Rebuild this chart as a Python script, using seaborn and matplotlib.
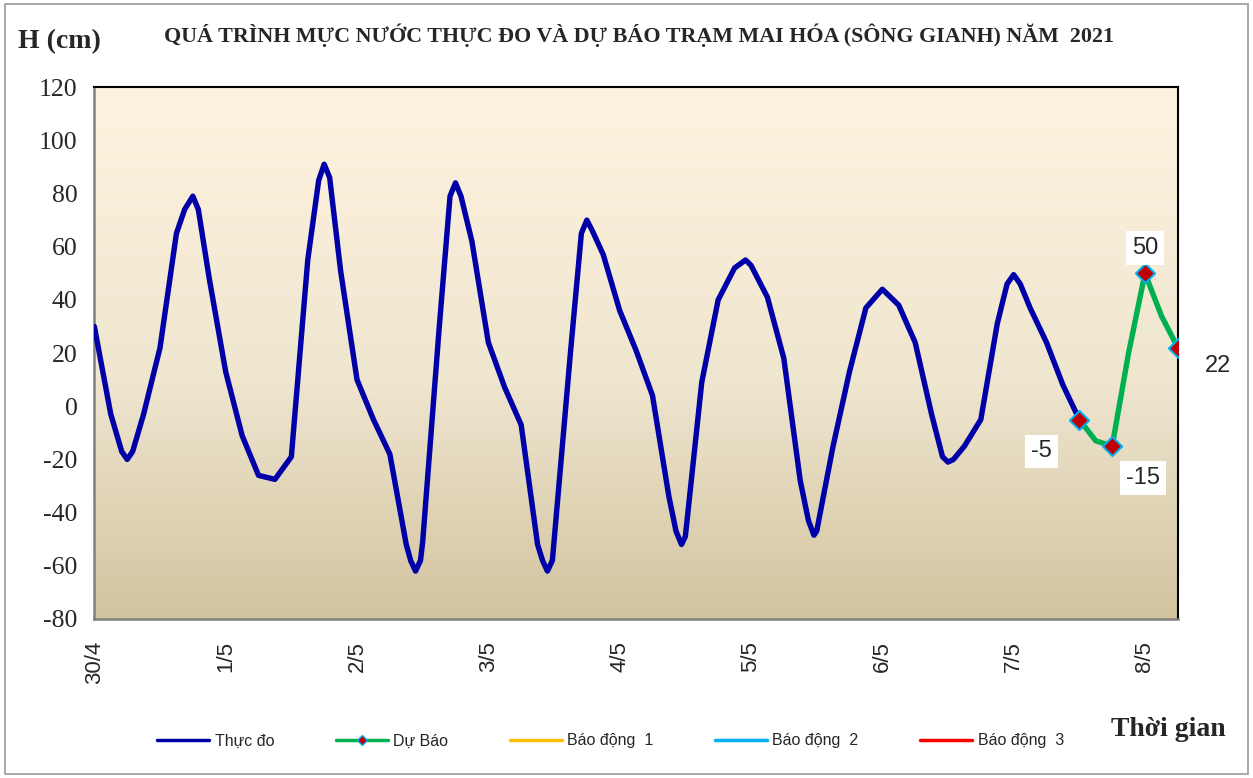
# -*- coding: utf-8 -*-
import numpy as np
import pandas as pd
import seaborn as sns
import matplotlib.pyplot as plt
from matplotlib.lines import Line2D
from matplotlib.patches import Rectangle
from matplotlib.colors import LinearSegmentedColormap

# so gio tinh tu 00h ngay 30/4, muc nuoc (cm) doc tren hinh
obs_hours = [0, 3, 5, 6, 7, 9, 12, 15, 16.5, 18, 19, 21, 24, 27, 30, 33, 36, 39, 41, 42, 43, 45,
             48, 51, 54, 57, 57.8, 58.7, 59.6, 60, 63, 65, 66, 67, 69, 72, 75, 78, 81, 81.9, 82.8,
             83.7, 84, 87, 89, 90, 91, 93, 96, 99, 102, 105, 106.3, 107.3, 108, 111, 114, 117,
             119, 120, 123, 126, 129, 130.5, 131.5, 132, 135, 138, 141, 144, 147, 150, 153,
             155, 156, 157, 159, 162, 165, 166.8, 168, 169.2, 171, 174, 177, 180]
obs_levels = [30, -3, -17, -20, -17, -3, 22, 65, 74, 79, 74, 48, 13, -11, -26, -27.5, -19, 55, 85, 91, 86, 51,
              10, -5, -18, -52, -58, -62, -58, -51, 29, 79, 84, 79, 62, 24, 7, -7, -52, -58, -62,
              -58, -51, 20, 65, 70, 66, 57, 36, 21, 4, -34, -47, -52, -49, 9, 40, 52,
              55, 53, 41, 18, -28, -43, -48.5, -47, -15, 13, 37, 44, 38, 24, -3,
              -19, -21, -20, -15, -5, 31, 46, 49.5, 46, 37, 24, 8, -5]

fc_hours = [180, 183, 186, 189, 192, 195, 198]
fc_levels = [-5, -13, -15, 20, 50, 34, 22]
fc_point_hours = [180, 186, 192, 198]
fc_point_levels = [-5, -15, 50, 22]

day_labels = ['30/4', '1/5', '2/5', '3/5', '4/5', '5/5', '6/5', '7/5', '8/5']
y_ticks = [-80, -60, -40, -20, 0, 20, 40, 60, 80, 100, 120]
legend_names = ['Thực đo', 'Dự Báo', 'Báo động  1', 'Báo động  2', 'Báo động  3']

sns.set_theme(style='white')
plt.rcParams['font.family'] = ['Liberation Sans', 'DejaVu Sans']
serif = ['Liberation Serif', 'DejaVu Serif']

obs = pd.DataFrame({'gio': obs_hours, 'H': obs_levels})
fc = pd.DataFrame({'gio': fc_hours, 'H': fc_levels})
fcp = pd.DataFrame({'gio': fc_point_hours, 'H': fc_point_levels})

fig = plt.figure(figsize=(12.53, 7.78), dpi=100)
fig.patch.set_facecolor('white')
fig.add_artist(Rectangle((0.004, 0.005), 0.992, 0.99, transform=fig.transFigure,
                         fill=False, edgecolor='#9a9a9a', lw=1.2))
ax = fig.add_axes([0.0753, 0.2044, 0.8647, 0.6836])

# nen chuyen mau
bg = LinearSegmentedColormap.from_list('bg', [(0, '#FEF3DE'), (0.55, '#EFE6D0'), (1, '#D3C4A0')])
ax.imshow(np.linspace(0, 1, 256).reshape(-1, 1), cmap=bg, aspect='auto',
          extent=[0, 198, -80, 120], origin='upper', zorder=0)

sns.lineplot(data=obs, x='gio', y='H', ax=ax, color='#0000A8', lw=3.9, zorder=3,
             solid_joinstyle='round', solid_capstyle='round')
sns.lineplot(data=fc, x='gio', y='H', ax=ax, color='#00B050', lw=3.9, zorder=4,
             solid_joinstyle='round', solid_capstyle='round')
sns.scatterplot(data=fcp, x='gio', y='H', ax=ax, marker='D', s=95, color='#C00000',
                edgecolor='#00B0F0', linewidth=1.5, zorder=5)

offsets = [(-27, -23), (22, -23), (0, 18), (29, -13)]
for (h, v), off in zip(zip(fc_point_hours, fc_point_levels), offsets):
    ax.annotate(str(v), xy=(h, v), xytext=off, textcoords='offset points',
                ha='center', va='center', fontsize=17, annotation_clip=False,
                bbox=dict(boxstyle='square,pad=0.25', fc='white', ec='none'), zorder=6)

ax.set_xlim(0, 198)
ax.set_ylim(-80, 120)
ax.set_xticks([24 * i for i in range(len(day_labels))])
ax.set_xticklabels(day_labels, rotation=90, fontsize=16)
ax.set_xticks(range(0, 199, 6), minor=True)
ax.tick_params(axis='x', which='both', direction='in', length=7, color='#808080', width=1.2, pad=16)
ax.set_yticks(y_ticks)
ax.set_yticklabels([str(t) for t in y_ticks], fontsize=18.5, family=serif)
ax.tick_params(axis='y', direction='out', length=7, color='#808080', width=1.2, pad=5)
ax.set_xlabel('')
ax.set_ylabel('')
for s in ['left', 'bottom']:
    ax.spines[s].set_color('#808080')
    ax.spines[s].set_linewidth(1.8)
for s in ['top', 'right']:
    ax.spines[s].set_color('black')
    ax.spines[s].set_linewidth(1.5)

fig.text(0.014, 0.946, 'H (cm)', fontsize=20, fontweight='bold', family=serif, va='center')
fig.text(0.51, 0.955, 'QUÁ TRÌNH MỰC NƯỚC THỰC ĐO VÀ DỰ BÁO TRẠM MAI HÓA (SÔNG GIANH) NĂM  2021',
         fontsize=15.8, fontweight='bold', family=serif, ha='center', va='center')
fig.text(0.978, 0.062, 'Thời gian', fontsize=20, fontweight='bold', family=serif, ha='right', va='center')

handles = [Line2D([], [], color='#0000A8', lw=2.5),
           Line2D([], [], color='#00B050', lw=2.5, marker='D', markersize=5,
                  markerfacecolor='#C00000', markeredgecolor='#00B0F0'),
           Line2D([], [], color='#FFC000', lw=2.5),
           Line2D([], [], color='#00B0F0', lw=2.5),
           Line2D([], [], color='#FF0000', lw=2.5)]
fig.legend(handles, legend_names, ncol=5, loc='center left', bbox_to_anchor=(0.114, 0.0476),
           frameon=False, fontsize=11.5, handlelength=3.25, columnspacing=3.85, handletextpad=0.35)

fig.savefig('out.png', dpi=100)
